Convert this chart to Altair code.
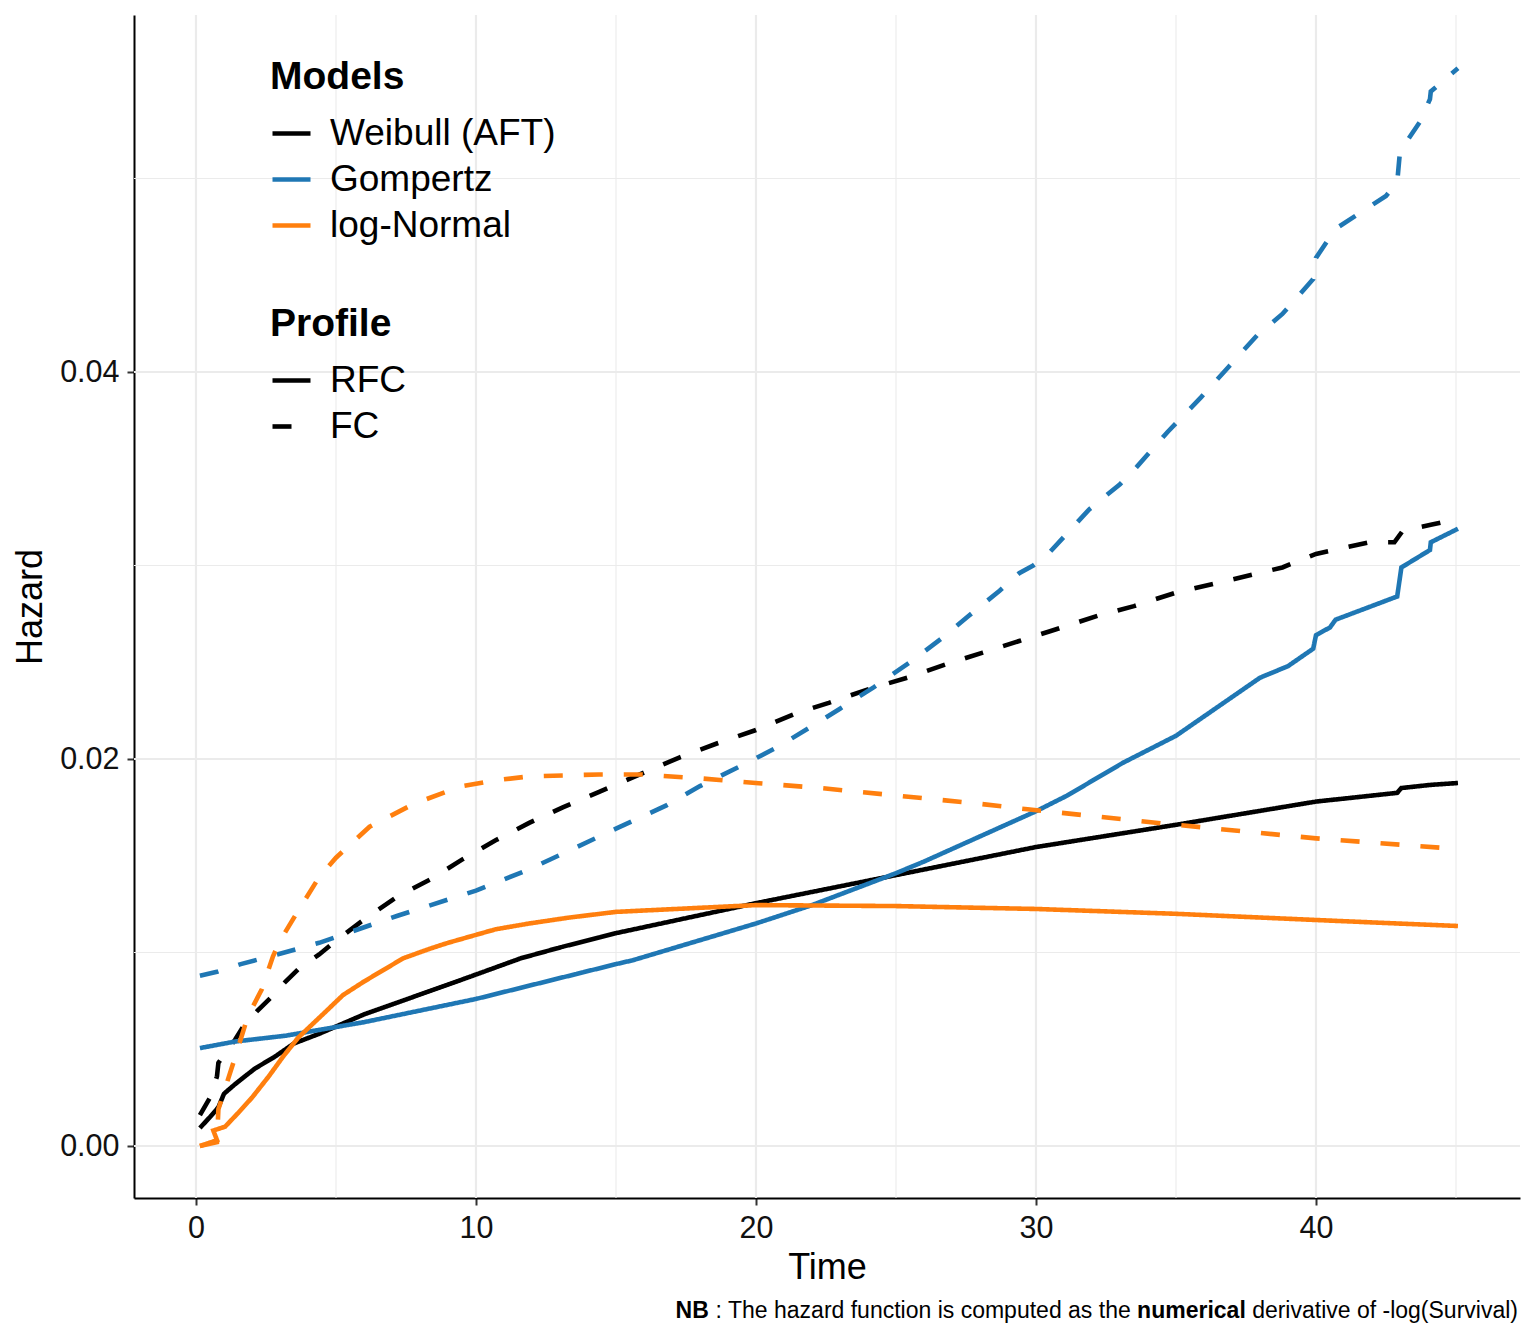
import altair as alt
import pandas as pd

# ---------------- data ----------------
models = ["Weibull (AFT)", "Gompertz", "log-Normal"]
model_colors = ["#000000", "#1f77b4", "#ff7f0e"]
profiles = ["RFC", "FC"]

weib_rfc_t = [0.14, 0.5, 0.8, 1.0, 1.4, 2.1, 2.8, 3.5, 4.4, 6.0, 7.75, 9.5, 11.6, 13.1,
              15, 20, 25, 30, 35, 40, 42.9, 43.05, 44.07, 45.07]
weib_rfc_h = [0.00093, 0.0015, 0.0020, 0.0027, 0.0032, 0.0040, 0.0046, 0.0053, 0.0058,
              0.0068, 0.0077, 0.0086, 0.0097, 0.0103, 0.0110, 0.01255, 0.0140, 0.01545,
              0.0166, 0.0178, 0.01825, 0.0185, 0.01866, 0.01876]

weib_fc_t = [0.14, 0.5, 0.75, 0.8, 1.0, 1.4, 1.7, 2.2, 2.7, 3.2, 3.7, 4.4, 4.9, 5.9, 7.2,
             8.4, 9.5, 10.7, 11.9, 13.1, 14.4, 16, 17.3, 18.6, 20, 21.5, 22.6, 24, 25.4,
             26.8, 28.1, 29.4, 30.5, 32.2, 33.5, 35, 36.5, 38.8, 40, 41.9, 42.8, 43.1,
             44.1, 44.7, 45.07]
weib_fc_h = [0.0016, 0.0025, 0.0036, 0.0043, 0.0047, 0.0055, 0.0062, 0.0070, 0.0077,
             0.0085, 0.0092, 0.0099, 0.0105, 0.0116, 0.0129, 0.0138, 0.0148, 0.0158,
             0.0167, 0.0175, 0.0183, 0.0193, 0.0201, 0.0208, 0.0215, 0.0224, 0.0229,
             0.0236, 0.0242, 0.0249, 0.0255, 0.0261, 0.0266, 0.0274, 0.0279, 0.0286,
             0.0291, 0.0299, 0.0306, 0.0312, 0.0312, 0.0318, 0.0321, 0.0323, 0.0323]

gomp_rfc_t = [0.14, 1.4, 3.2, 6.0, 10, 15, 15.6, 20, 22, 25, 26, 30, 31.1, 33.1, 35,
              37.2, 38, 39, 39.9, 40.0, 40.5, 40.7, 42.9, 43.05, 44.07, 44.1, 45.07]
gomp_rfc_h = [0.00506, 0.0054, 0.0057, 0.0064, 0.0076, 0.0094, 0.0096, 0.0115, 0.01245,
              0.0141, 0.0147, 0.0173, 0.0181, 0.0198, 0.0212, 0.0234, 0.0242, 0.0248,
              0.0257, 0.0264, 0.0268, 0.0272, 0.0284, 0.0299, 0.0308, 0.0312, 0.0319]

gomp_fc_t = [0.14, 0.75, 1.6, 2.9, 4.4, 7.2, 10, 11.9, 15, 16.8, 18, 19.4, 20.75, 22, 23,
             24.2, 25.5, 26.6, 27.6, 28.7, 29.4, 29.9, 30.5, 31.9, 33, 33.6, 34.7, 35.9,
             36.9, 37.9, 38.8, 39.9, 40.0, 40.7, 42.5, 42.9, 43.0, 43.7, 44.07, 44.1, 45.07]
gomp_fc_h = [0.0088, 0.0090, 0.0094, 0.0099, 0.0105, 0.0119, 0.0132, 0.0143, 0.0164,
             0.0176, 0.0186, 0.0196, 0.0206, 0.0217, 0.0226, 0.0237, 0.0250, 0.0262,
             0.0274, 0.0287, 0.0296, 0.0300, 0.0307, 0.0329, 0.0342, 0.0351, 0.0369,
             0.0387, 0.0403, 0.0419, 0.0430, 0.0448, 0.0459, 0.0474, 0.0491, 0.0498,
             0.0514, 0.0529, 0.0541, 0.0545, 0.0557]

ln_rfc_t = [0.14, 0.75, 0.62, 1.04, 1.5, 2.0, 2.6, 3.1, 3.65, 4.6, 5.25, 6.0, 7.4, 8.36,
            9.0, 10.7, 11.9, 13.3, 15, 20, 25, 30, 35, 40, 42.9, 45.07]
ln_rfc_h = [0.0, 0.0003, 0.0008, 0.0010, 0.0017, 0.0025, 0.0036, 0.0046, 0.0056, 0.0069,
            0.0078, 0.0085, 0.0097, 0.0102, 0.0105, 0.0112, 0.0115, 0.0118, 0.0121,
            0.01245, 0.0124, 0.01225, 0.0120, 0.01168, 0.0115, 0.01137]

ln_fc_t = [0.14, 0.75, 0.8, 1.0, 1.4, 1.85, 2.35, 2.75, 3.0, 3.5, 4.4, 5.0, 6.2, 7.8, 9.5,
           10.7, 11.9, 14.4, 15.9, 18, 20.1, 22.3, 25.1, 27.9, 29.7, 35, 40, 45.07]
ln_fc_h = [0.0, 0.0002, 0.0019, 0.0028, 0.0046, 0.0067, 0.0081, 0.0098, 0.0106, 0.0118,
           0.0139, 0.0149, 0.0165, 0.0177, 0.0186, 0.0189, 0.0191, 0.0192, 0.0192, 0.0190,
           0.01875, 0.0185, 0.0181, 0.0177, 0.0174, 0.0166, 0.0159, 0.01535]

grid_x_major = [0, 10, 20, 30, 40]
grid_x_minor = [5, 15, 25, 35, 45]
grid_y_major = [0.0, 0.02, 0.04]
grid_y_minor = [0.01, 0.03, 0.05]

x_ticks = [0, 10, 20, 30, 40]
y_ticks = [0.0, 0.02, 0.04]

caption_parts = [("NB", "bold"),
                 (": The hazard function is computed as the", "normal"),
                 ("numerical", "bold"),
                 ("derivative of -log(Survival)", "normal")]

# ---------------- table ----------------
series = [
    ("Weibull (AFT)", "RFC", weib_rfc_t, weib_rfc_h),
    ("Weibull (AFT)", "FC", weib_fc_t, weib_fc_h),
    ("Gompertz", "RFC", gomp_rfc_t, gomp_rfc_h),
    ("Gompertz", "FC", gomp_fc_t, gomp_fc_h),
    ("log-Normal", "RFC", ln_rfc_t, ln_rfc_h),
    ("log-Normal", "FC", ln_fc_t, ln_fc_h),
]
rows = []
for m, p, ts, hs in series:
    for i, (t, h) in enumerate(zip(ts, hs)):
        rows.append({"model": m, "profile": p, "time": t, "hazard": h, "ord": i})
df = pd.DataFrame(rows)

FONT = "Liberation Sans"
W, H = 1386, 1183

x_scale = alt.Scale(domain=[-2.214, 47.286], nice=False, zero=False)
y_scale = alt.Scale(domain=[-0.002687, 0.05845], nice=False, zero=False)

axis_common = dict(grid=False, domainColor="black", domainWidth=2,
                   tickColor="#333333", tickWidth=2, tickSize=7, labelFontSize=30.5,
                   labelColor="#111111", labelPadding=8, titleFontSize=36,
                   titleFontWeight="normal", titleColor="black")
x_axis = alt.Axis(values=x_ticks, titlePadding=7, **axis_common)
y_axis = alt.Axis(values=y_ticks, format=".2f", titlePadding=10, **axis_common)

X = alt.X("time:Q", scale=x_scale, axis=x_axis, title="Time")
Y = alt.Y("hazard:Q", scale=y_scale, axis=y_axis, title="Hazard")

gx_maj = alt.Chart(pd.DataFrame({"time": grid_x_major})).mark_rule(
    color="#ebebeb", strokeWidth=2.2).encode(x=X)
gx_min = alt.Chart(pd.DataFrame({"time": grid_x_minor})).mark_rule(
    color="#ebebeb", strokeWidth=1.1).encode(x=X)
gy_maj = alt.Chart(pd.DataFrame({"hazard": grid_y_major})).mark_rule(
    color="#ebebeb", strokeWidth=2.2).encode(y=Y)
gy_min = alt.Chart(pd.DataFrame({"hazard": grid_y_minor})).mark_rule(
    color="#ebebeb", strokeWidth=1.1).encode(y=Y)

legend_common = dict(orient="none", symbolType="stroke", symbolSize=1444,
                     symbolStrokeWidth=4.6, labelFontSize=37, titleFontSize=39,
                     titleFontWeight="bold", rowPadding=6, titlePadding=15,
                     labelOffset=17, labelLimit=600, titleLimit=600,
                     labelColor="black", titleColor="black", legendX=136)

lines = alt.Chart(df).mark_line(strokeWidth=4.6, strokeCap="butt").encode(
    x=X, y=Y,
    color=alt.Color("model:N", scale=alt.Scale(domain=models, range=model_colors),
                    legend=alt.Legend(title="Models", legendY=43, **legend_common)),
    strokeDash=alt.StrokeDash("profile:N",
                              scale=alt.Scale(domain=profiles, range=[[1, 0], [19, 21]]),
                              legend=alt.Legend(title="Profile", legendY=290,
                                                symbolStrokeColor="black",
                                                **legend_common)),
    order=alt.Order("ord:Q"),
)

# caption: mixed bold/normal pieces chained from the right edge
reg_w = {' ': 278, ':': 278, 'T': 611, 'h': 556, 'e': 556, 'a': 556, 'z': 500, 'r': 333,
         'd': 556, 'f': 278, 'u': 556, 'n': 556, 'c': 500, 't': 278, 'i': 222, 'o': 556,
         's': 500, 'm': 833, 'p': 556, 'v': 500, '-': 333, 'l': 222, 'g': 556, '(': 333,
         'S': 667, ')': 333}
bold_w = {'N': 722, 'B': 722, 'n': 611, 'u': 611, 'm': 889, 'e': 556, 'r': 389,
          'i': 278, 'c': 556, 'a': 556, 'l': 278, ' ': 278}
CAP_FS = 23


def text_width(s, weight):
    tbl = bold_w if weight == "bold" else reg_w
    return sum(tbl.get(ch, 556) for ch in s) / 1000.0 * CAP_FS


caption_layers = []
right = 1384.0
for idx, (txt, weight) in enumerate(reversed(caption_parts)):
    caption_layers.append(
        alt.Chart(pd.DataFrame({"k": [0]})).mark_text(
            text=txt, align="right", baseline="alphabetic", fontSize=CAP_FS,
            fontWeight=weight, color="black", font=FONT
        ).encode(x=alt.value(right), y=alt.value(1303))
    )
    right -= text_width(txt, weight) + 0.278 * CAP_FS

chart = alt.layer(gx_min, gy_min, gx_maj, gy_maj, lines, *caption_layers).properties(
    width=W, height=H,
    autosize=alt.AutoSizeParams(type="none"),
    padding={"left": 126, "top": 7, "right": 8, "bottom": 140},
).configure(font=FONT).configure_view(stroke=None)

chart.save("out.html", embed_options={"renderer": "svg", "actions": False})
